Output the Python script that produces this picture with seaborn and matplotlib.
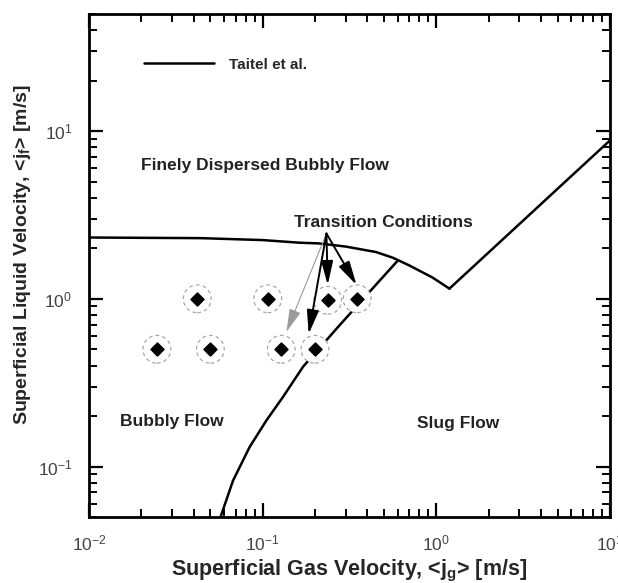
import numpy as np
import pandas as pd
import matplotlib
matplotlib.use("Agg")
import matplotlib.pyplot as plt
import seaborn as sns

# Taitel et al. transition boundaries
upper_jg = [0.01, 0.044, 0.1, 0.163, 0.21, 0.3, 0.45, 0.56, 0.7, 0.95, 1.19]
upper_jf = [2.32, 2.30, 2.24, 2.16, 2.14, 2.05, 1.90, 1.76, 1.58, 1.34, 1.15]
right_jg = [1.19, 10.0]
right_jf = [1.15, 8.8]
lower_jg = [0.0571, 0.0675, 0.0841, 0.105, 0.131, 0.171, 0.272, 0.428, 0.60]
lower_jf = [0.0497, 0.0824, 0.1306, 0.188, 0.260, 0.394, 0.68, 1.148, 1.69]

# measured conditions
pts_jg = [0.0246, 0.050, 0.128, 0.20, 0.042, 0.107, 0.237, 0.35]
pts_jf = [0.50, 0.50, 0.50, 0.50, 1.0, 1.0, 0.98, 1.0]

# transition-condition arrows
arrow_start = (0.233, 2.45)
arrow_jg = [0.137, 0.184, 0.237, 0.347]
arrow_jf = [0.634, 0.617, 1.21, 1.21]
arrow_col = ["#9a9a9a", "black", "black", "black"]

sns.set_theme(style="ticks")
plt.rcParams["font.family"] = ["Liberation Sans", "DejaVu Sans"]
plt.rcParams["mathtext.fontset"] = "custom"
plt.rcParams["mathtext.rm"] = "Liberation Sans"
plt.rcParams["mathtext.bf"] = "Liberation Sans:bold"
plt.rcParams["mathtext.it"] = "Liberation Sans:italic"
plt.rcParams["axes.unicode_minus"] = False

fig = plt.figure(figsize=(6.18, 5.83), dpi=100)
ax = fig.add_axes([0.144, 0.1132, 0.843, 0.863])

up = pd.DataFrame({"jg": upper_jg, "jf": upper_jf})
rt = pd.DataFrame({"jg": right_jg, "jf": right_jf})
lo = pd.DataFrame({"jg": lower_jg, "jf": lower_jf})
sns.lineplot(data=up, x="jg", y="jf", sort=False, estimator=None, color="black",
             lw=1.8, ax=ax, label="Taitel et al.", zorder=2)
sns.lineplot(data=rt, x="jg", y="jf", sort=False, estimator=None, color="black",
             lw=1.8, ax=ax, zorder=2)
sns.lineplot(data=lo, x="jg", y="jf", sort=False, estimator=None, color="black",
             lw=1.8, ax=ax, zorder=2)

pts = pd.DataFrame({"jg": pts_jg, "jf": pts_jf})
ax.scatter(pts["jg"], pts["jf"], s=20**2, facecolor="white", edgecolor="#a8a8a8",
           linewidths=0.9, linestyle=(0, (3, 2.5)), zorder=3)
sns.scatterplot(data=pts, x="jg", y="jf", marker="D", s=42, color="black",
                edgecolor="black", linewidth=1.2, ax=ax, zorder=4, legend=False)

for xg, yf, c in zip(arrow_jg, arrow_jf, arrow_col):
    ax.annotate("", xy=(xg, yf), xytext=arrow_start,
                arrowprops=dict(arrowstyle="-|>,head_length=1.2,head_width=0.3",
                                color=c, lw=0.8 if c != "black" else 1.4,
                                shrinkA=0, shrinkB=0), zorder=5)

ax.set_xscale("log")
ax.set_yscale("log")
ax.set_xlim(0.01, 10)
ax.set_ylim(0.05, 50)

txt = dict(fontsize=12.5, fontweight="bold", ha="center", va="center", color="#222222")
ax.text(0.1026, 6.25, "Finely Dispersed Bubbly Flow", **txt)
ax.text(0.495, 2.85, "Transition Conditions", **txt)
ax.text(0.030, 0.186, "Bubbly Flow", **txt)
ax.text(1.34, 0.18, "Slug Flow", **txt)

ax.set_xlabel(r"Superficial Gas Velocity, <j$_\mathbf{g}$> [m/s]", fontsize=15.5,
              fontweight="bold", labelpad=3)
ax.set_ylabel(r"Superficial Liquid Velocity, <j$_\mathbf{f}$> [m/s]", fontsize=14,
              fontweight="bold")
ax.yaxis.set_label_coords(-0.108, 0.521)

for s in ax.spines.values():
    s.set_linewidth(2.0)
    s.set_color("black")
ax.tick_params(which="both", direction="in", top=True, right=True, color="black",
               labelsize=12.5, labelcolor="#444444")
ax.tick_params(which="major", length=10, width=1.6, pad=12)
ax.tick_params(which="minor", length=6, width=1.4)

leg = ax.legend(loc="center left", bbox_to_anchor=(0.09, 0.899), frameon=False,
                handlelength=4.6, handletextpad=1.0, borderpad=0,
                prop=dict(size=11, weight="bold"))

fig.savefig("out.png", dpi=100)
